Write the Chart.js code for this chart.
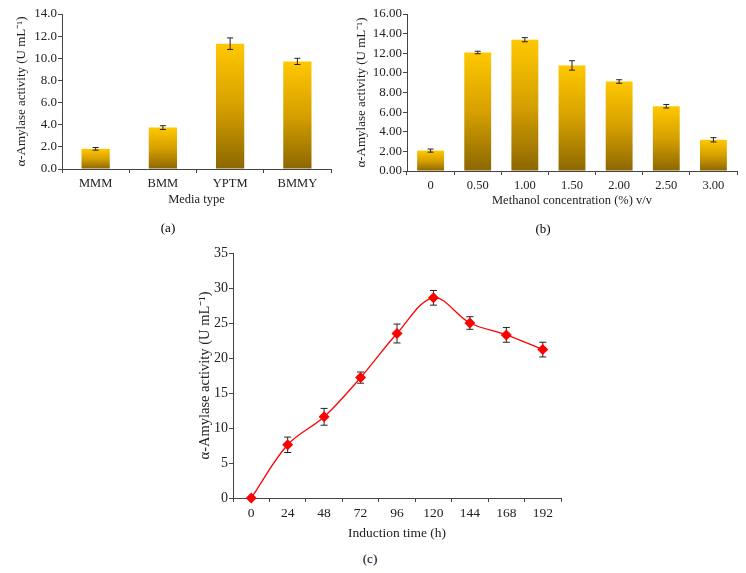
<!DOCTYPE html>
<html>
<head>
<meta charset="utf-8">
<script src="https://cdn.jsdelivr.net/npm/chart.js@4.4.0/dist/chart.umd.min.js"></script>
<style>
body { margin: 0; background: #fff; }
#wrap { position: relative; width: 746px; height: 573px; overflow: hidden; font-family: "Liberation Serif", serif; }
.box { position: absolute; }
.lbl { position: absolute; font-size: 13px; color: #000000; transform: translate(-50%, -50%); }
</style>
</head>
<body>
<div id="wrap">
  <div class="box" style="left:0;top:0;width:345px;height:212px"><canvas id="chartA"></canvas></div>
  <div class="box" style="left:345px;top:0;width:401px;height:212px"><canvas id="chartB"></canvas></div>
  <div class="box" style="left:150px;top:235px;width:450px;height:310px"><canvas id="chartC"></canvas></div>
  <div class="lbl" style="left:168px;top:228px">(a)</div>
  <div class="lbl" style="left:543px;top:229px">(b)</div>
  <div class="lbl" style="left:370px;top:559px">(c)</div>
</div>
<script>
// (a) media type
const mediaTypes = ['MMM', 'BMM', 'YPTM', 'BMMY'];
const mediaActivity = [1.82, 3.74, 11.32, 9.72];
const mediaError = [0.12, 0.17, 0.52, 0.28];
const mediaTicks = [0, 2, 4, 6, 8, 10, 12, 14];

// (b) methanol concentration
const methanolConc = ['0', '0.50', '1.00', '1.50', '2.00', '2.50', '3.00'];
const methanolActivity = [2.08, 12.08, 13.38, 10.76, 9.12, 6.60, 3.18];
const methanolError = [0.16, 0.13, 0.21, 0.48, 0.18, 0.18, 0.22];
const methanolTicks = [0, 2, 4, 6, 8, 10, 12, 14, 16];

// (c) induction time
const inductionTime = ['0', '24', '48', '72', '96', '120', '144', '168', '192'];
const inductionActivity = [0, 7.6, 11.6, 17.2, 23.5, 28.6, 25.0, 23.3, 21.2];
const inductionError = [0, 1.1, 1.2, 0.8, 1.35, 1.05, 0.9, 1.05, 1.05];
const inductionTicks = [0, 5, 10, 15, 20, 25, 30, 35];

const yTitle = 'α-Amylase activity (U mL⁻¹)';
const serif = '"Liberation Serif", "Times New Roman", serif';
const axisColor = '#444';
const textColor = '#222';

// error bars, drawn through the y scale
function drawErrors(chart, opts) {
  const ctx = chart.ctx;
  const y = chart.scales.y;
  chart.data.datasets.forEach((ds, di) => {
    if (!ds.errors) return;
    chart.getDatasetMeta(di).data.forEach((el, i) => {
      const e = ds.errors[i];
      if (!e) return;
      const v = ds.data[i];
      const top = y.getPixelForValue(v + e);
      const bot = y.getPixelForValue(v - e);
      const x = el.x;
      ctx.save();
      ctx.strokeStyle = opts.color || '#222';
      ctx.lineWidth = 1;
      ctx.beginPath();
      ctx.moveTo(x, top); ctx.lineTo(x, bot);
      ctx.moveTo(x - opts.cap, top); ctx.lineTo(x + opts.cap, top);
      ctx.moveTo(x - opts.cap, bot); ctx.lineTo(x + opts.cap, bot);
      ctx.stroke();
      ctx.restore();
    });
  });
}
const errorBars = {
  id: 'errorBars',
  beforeDatasetsDraw(chart, args, opts) { if (opts.under) drawErrors(chart, opts); },
  afterDatasetsDraw(chart, args, opts) { if (!opts.under) drawErrors(chart, opts); }
};

// gold gradient per bar, from bar top down to the base
function barGradient(c) {
  const chart = c.chart;
  if (!chart.chartArea || c.raw === undefined) return '#e0a800';
  const y = chart.scales.y;
  const top = y.getPixelForValue(c.raw);
  const base = y.getPixelForValue(0);
  const g = chart.ctx.createLinearGradient(0, top, 0, base);
  g.addColorStop(0, '#ffc800');
  g.addColorStop(0.5, '#d6a000');
  g.addColorStop(1, '#8c6700');
  return g;
}

function xAxis(title, size, height, titlePad) {
  return {
    offset: true,
    grid: { drawOnChartArea: false, offset: true, tickLength: 4, color: axisColor },
    border: { color: axisColor },
    ticks: { color: textColor, font: { family: serif, size: size }, padding: 3, maxRotation: 0 },
    title: { display: true, text: title, color: textColor, font: { family: serif, size: size }, padding: { top: 0, bottom: titlePad } },
    afterFit(s) { s.height = height; }
  };
}

function yAxis(tickList, max, decimals, size, titleSize, width, titlePad) {
  return {
    min: 0,
    max: max,
    afterBuildTicks(s) { s.ticks = tickList.map(v => ({ value: v })); },
    grid: { drawOnChartArea: false, tickLength: 4, color: axisColor },
    border: { color: axisColor },
    ticks: { color: textColor, font: { family: serif, size: size }, padding: 1, callback: v => Number(v).toFixed(decimals) },
    title: { display: true, text: yTitle, color: textColor, font: { family: serif, size: titleSize }, padding: { top: titlePad, bottom: 0 } },
    afterFit(s) { s.width = width; }
  };
}

const common = {
  responsive: true,
  maintainAspectRatio: false,
  animation: false,
  events: []
};

new Chart(document.getElementById('chartA'), {
  type: 'bar',
  data: {
    labels: mediaTypes,
    datasets: [{
      data: mediaActivity,
      errors: mediaError,
      backgroundColor: barGradient,
      borderWidth: 0,
      categoryPercentage: 1,
      barPercentage: 0.42
    }]
  },
  options: Object.assign({}, common, {
    layout: { padding: { top: 14, right: 14, left: 0, bottom: 0 } },
    plugins: { legend: { display: false }, tooltip: { enabled: false }, errorBars: { cap: 3, color: '#222' } },
    scales: {
      x: xAxis('Media type', 12.5, 43, 5),
      y: yAxis(mediaTicks, 14, 1, 13, 13, 62, 14)
    }
  }),
  plugins: [errorBars]
});

new Chart(document.getElementById('chartB'), {
  type: 'bar',
  data: {
    labels: methanolConc,
    datasets: [{
      data: methanolActivity,
      errors: methanolError,
      backgroundColor: barGradient,
      borderWidth: 0,
      categoryPercentage: 1,
      barPercentage: 0.57
    }]
  },
  options: Object.assign({}, common, {
    layout: { padding: { top: 14, right: 9, left: 0, bottom: 0 } },
    plugins: { legend: { display: false }, tooltip: { enabled: false }, errorBars: { cap: 3, color: '#222' } },
    scales: {
      x: xAxis('Methanol concentration (%) v/v', 12.5, 41, 4),
      y: yAxis(methanolTicks, 16, 2, 13, 13, 62, 9)
    }
  }),
  plugins: [errorBars]
});

new Chart(document.getElementById('chartC'), {
  type: 'line',
  data: {
    labels: inductionTime,
    datasets: [{
      data: inductionActivity,
      errors: inductionError,
      borderColor: '#ff0000',
      borderWidth: 1.3,
      tension: 0.35,
      clip: false,
      pointStyle: 'rectRot',
      pointRadius: 5.5,
      pointBackgroundColor: '#ff0000',
      pointBorderColor: '#ff0000',
      pointBorderWidth: 0
    }]
  },
  options: Object.assign({}, common, {
    layout: { padding: { top: 18, right: 39, left: 0, bottom: 0 } },
    plugins: { legend: { display: false }, tooltip: { enabled: false }, errorBars: { cap: 3.5, color: '#222', under: true } },
    scales: {
      x: xAxis('Induction time (h)', 13.5, 47, 3),
      y: yAxis(inductionTicks, 35, 0, 14, 14.5, 83, 46)
    }
  }),
  plugins: [errorBars]
});
</script>
</body>
</html>
